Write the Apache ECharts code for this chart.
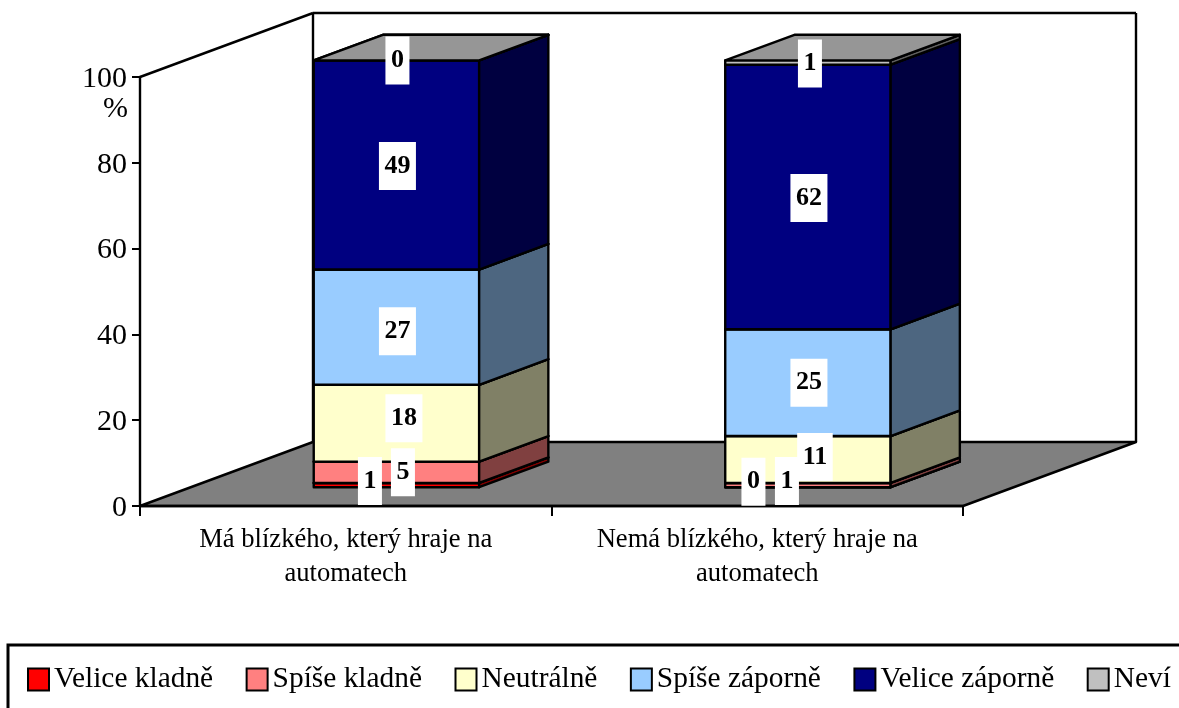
<!DOCTYPE html>
<html>
<head>
<meta charset="utf-8">
<style>html,body{margin:0;padding:0;background:#fff}#main{width:1179px;height:708px}</style>
<script src="https://cdn.jsdelivr.net/npm/echarts@6/dist/echarts.min.js"></script>
</head>
<body>
<div id="main"></div>
<script>
var categories = ['Má blízkého, který hraje na\nautomatech', 'Nemá blízkého, který hraje na\nautomatech'];
var seriesNames = ['Velice kladně', 'Spíše kladně', 'Neutrálně', 'Spíše záporně', 'Velice záporně', 'Neví'];
var velicKladne = [1, 0];
var spiseKladne = [5, 1];
var neutralne = [18, 11];
var spiseZaporne = [27, 25];
var veliceZaporne = [49, 62];
var nevi = [0, 1];
var yTicks = [0, 20, 40, 60, 80, 100];

var seriesValues = [velicKladne, spiseKladne, neutralne, spiseZaporne, veliceZaporne, nevi];
var frontColors = ['#ff0000', '#ff8080', '#ffffcc', '#99ccff', '#000080', '#c0c0c0'];
var sideColors = ['#800000', '#804040', '#808066', '#4d6680', '#000040', '#606060'];
var topColors = ['#cc0000', '#cc6666', '#ccccA3', '#7aa3cc', '#000066', '#969696'];

// 3D look: how far the floor goes back, and where the bars sit in that depth
var WALL_DX = 173, WALL_DY = -64;
var BAR_FRONT = 0.293, BAR_DEPTH = 0.4, BAR_WIDTH = 0.402;
var BAR_SCALE = 0.995; // the bars stop a hair under the 100 line in the original
var LINE = 2.4;
var FONT = '"Liberation Serif"';

// label nudges in px per category / segment, Excel moved them by hand
var labelShift = [
    [[-26.5, -4], [6.5, 0], [7.5, -5], [1, 4], [1, 1], [1, 0]],
    [[-54.5, -5.5], [-21, -4], [7, -2.5], [1, 0], [1, 1], [2, 1]]
];

function stackBase(cat, seg) {
    var sum = 0;
    for (var i = 0; i < seg; i++) sum += seriesValues[i][cat];
    return sum;
}

function poly(points, fill) {
    return {
        type: 'polygon',
        shape: { points: points },
        style: { fill: fill, stroke: '#000', lineWidth: LINE, lineJoin: 'round' }
    };
}

function line(x1, y1, x2, y2) {
    return {
        type: 'line',
        shape: { x1: x1, y1: y1, x2: x2, y2: y2 },
        style: { stroke: '#000', lineWidth: LINE }
    };
}

// floor and the two walls
function renderRoom(params) {
    var c = params.coordSys;
    var l = c.x, b = c.y + c.height, r = c.x + c.width, t = c.y;
    return {
        type: 'group',
        children: [
            poly([[l, b], [l + WALL_DX, b + WALL_DY], [r + WALL_DX, b + WALL_DY], [r, b]], '#808080'),
            line(l, t, l + WALL_DX, t + WALL_DY),
            line(l + WALL_DX, t + WALL_DY, r + WALL_DX, t + WALL_DY),
            line(l + WALL_DX, t + WALL_DY, l + WALL_DX, b + WALL_DY),
            line(r + WALL_DX, t + WALL_DY, r + WALL_DX, b + WALL_DY)
        ]
    };
}

function renderSegment(seg) {
    return function (params, api) {
        var p0 = api.coord([api.value(0), api.value(1) * BAR_SCALE]);
        var p1 = api.coord([api.value(0), api.value(2) * BAR_SCALE]);
        var band = api.size([1, 0])[0];
        var fx = WALL_DX * BAR_FRONT, fy = WALL_DY * BAR_FRONT;
        var dx = WALL_DX * BAR_DEPTH, dy = WALL_DY * BAR_DEPTH;
        var x0 = p0[0] + fx - band * BAR_WIDTH / 2;
        var x1 = p0[0] + fx + band * BAR_WIDTH / 2;
        var yb = p0[1] + fy, yt = p1[1] + fy;
        return {
            type: 'group',
            children: [
                poly([[x0, yb], [x1, yb], [x1, yt], [x0, yt]], frontColors[seg]),
                poly([[x1, yb], [x1 + dx, yb + dy], [x1 + dx, yt + dy], [x1, yt]], sideColors[seg]),
                poly([[x0, yt], [x1, yt], [x1 + dx, yt + dy], [x0 + dx, yt + dy]], topColors[seg])
            ]
        };
    };
}

function renderLabel(params, api) {
    var cat = api.value(0), seg = api.value(1), base = api.value(2), val = api.value(3);
    var p = api.coord([cat, (base + val / 2) * BAR_SCALE]);
    var shift = labelShift[cat][seg];
    return {
        type: 'text',
        style: {
            text: String(val),
            x: p[0] + WALL_DX * BAR_FRONT + shift[0],
            y: p[1] + WALL_DY * BAR_FRONT + shift[1],
            fill: '#000',
            fontFamily: FONT,
            fontWeight: 'bold',
            fontSize: 26,
            align: 'center',
            verticalAlign: 'middle',
            backgroundColor: '#fff',
            padding: [11, 5.5]
        }
    };
}

var series = [{
    name: 'room',
    type: 'custom',
    z: 1,
    silent: true,
    renderItem: renderRoom,
    data: [[0]]
}];

seriesNames.forEach(function (name, seg) {
    series.push({
        name: name,
        type: 'custom',
        z: 4,
        silent: true,
        itemStyle: { color: frontColors[seg] },
        encode: { x: 0, y: [1, 2] },
        renderItem: renderSegment(seg),
        data: categories.map(function (c, cat) {
            var base = stackBase(cat, seg);
            return [cat, base, base + seriesValues[seg][cat]];
        })
    });
});

var labelData = [];
categories.forEach(function (c, cat) {
    seriesNames.forEach(function (n, seg) {
        labelData.push([cat, seg, stackBase(cat, seg), seriesValues[seg][cat]]);
    });
});
series.push({
    name: 'labels',
    type: 'custom',
    z: 6,
    silent: true,
    encode: { x: 0, y: 2 },
    renderItem: renderLabel,
    data: labelData
});

var myChart = echarts.init(document.getElementById('main'));
myChart.setOption({
    animation: false,
    backgroundColor: '#fff',
    textStyle: { fontFamily: FONT },
    grid: { left: 140, top: 77, width: 823, height: 429, outerBoundsMode: 'none' },
    xAxis: {
        type: 'category',
        data: categories,
        z: 3,
        axisLine: { lineStyle: { color: '#000', width: LINE } },
        axisTick: { show: true, alignWithLabel: false, interval: 0, length: 10, lineStyle: { color: '#000', width: 2 } },
        axisLabel: { interval: 0, hideOverlap: false, color: '#000', fontFamily: FONT, fontSize: 26.6, lineHeight: 34, margin: 17 }
    },
    yAxis: {
        type: 'value',
        min: yTicks[0],
        max: yTicks[yTicks.length - 1],
        interval: yTicks[1] - yTicks[0],
        z: 3,
        name: '%',
        nameLocation: 'end',
        nameGap: -47,
        nameMoveOverlap: false,
        nameTextStyle: { color: '#000', fontFamily: FONT, fontSize: 30, align: 'right', padding: [0, 12, 0, 0] },
        splitLine: { show: false },
        axisLine: { show: true, lineStyle: { color: '#000', width: LINE } },
        axisTick: { show: true, length: 8, lineStyle: { color: '#000', width: 2 } },
        // small line box hung from the tick: pushes the numbers 2px down like the original
        axisLabel: { color: '#000', fontFamily: FONT, fontSize: 30, margin: 13, verticalAlign: 'top', lineHeight: 4 }
    },
    legend: {
        left: 27,
        top: 665,
        width: 1152,
        padding: 0,
        itemWidth: 21,
        itemHeight: 22,
        itemGap: 32.5,
        icon: 'rect',
        selectedMode: false,
        textStyle: { color: '#000', fontFamily: FONT, fontSize: 29.4 },
        itemStyle: { borderColor: '#000', borderWidth: 2 },
        data: seriesNames
    },
    graphic: [{
        type: 'polyline',
        shape: { points: [[8, 708], [8, 645], [1179, 645]] },
        style: { fill: null, stroke: '#000', lineWidth: 3 }
    }],
    series: series
});
</script>
</body>
</html>
